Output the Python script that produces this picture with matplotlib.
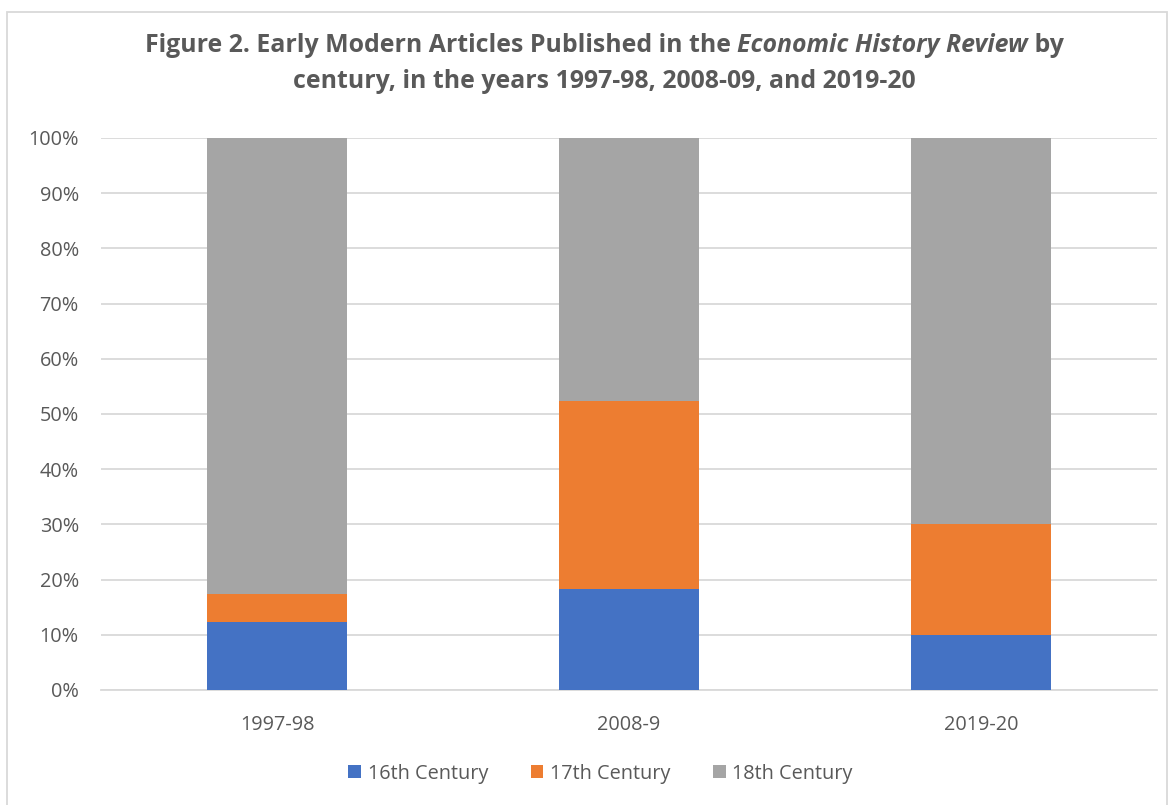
import matplotlib
matplotlib.use("Agg")
import matplotlib.pyplot as plt
import numpy as np
from matplotlib.patches import Rectangle

years = ["1997-98", "2008-9", "2019-20"]
c16 = [12.4, 18.3, 10.0]
c17 = [5.0, 34.1, 20.0]
c18 = [82.6, 47.6, 70.0]
series_names = ["16th Century", "17th Century", "18th Century"]

palette = {"blue": "#4472C4", "orange": "#ED7D31", "gray": "#A5A5A5"}
txt = "#595959"
grid = "#D9D9D9"

plt.rcParams['font.family'] = ['Open Sans', 'DejaVu Sans']

fig = plt.figure(figsize=(11.71, 8.05), dpi=100)
fig.patches.append(Rectangle((0.006, -0.01), 0.991, 0.995, transform=fig.transFigure,
                             fill=False, ec=grid, lw=1.3))

ax = fig.add_axes([0.0863, 0.1429, 0.9017, 0.6857])
x = np.arange(len(years))
w = 0.398
ax.bar(x, c16, w, color=palette["blue"], label=series_names[0], zorder=3)
ax.bar(x, c17, w, bottom=c16, color=palette["orange"], label=series_names[1], zorder=3)
ax.bar(x, c18, w, bottom=np.array(c16) + np.array(c17), color=palette["gray"],
       label=series_names[2], zorder=3)

ax.set_xlim(-0.5, 2.5)
ax.set_ylim(0, 100)
ax.set_yticks(np.arange(0, 101, 10))
ax.set_yticklabels([f"{v}%" for v in range(0, 101, 10)])
ax.set_xticks(x)
ax.set_xticklabels(years)
ax.yaxis.grid(True, color=grid, lw=1.3, zorder=0)
for s in ["top", "right", "left"]:
    ax.spines[s].set_visible(False)
ax.spines["bottom"].set_color(grid)
ax.spines["bottom"].set_linewidth(1.3)
ax.tick_params(length=0, labelsize=14.3, labelcolor=txt)
ax.tick_params(axis="y", pad=16)
ax.tick_params(axis="x", pad=18)

leg = fig.legend(loc="center", bbox_to_anchor=(0.513, 0.039), ncol=3, frameon=False,
                 fontsize=14.3, handlelength=0.65, handleheight=0.65, handletextpad=0.35,
                 columnspacing=2.1)
for t in leg.get_texts():
    t.set_color(txt)

# title with italic part
renderer = fig.canvas.get_renderer()

def draw_line(parts, y, size=17.9, xc=0.516):
    objs = []
    for s, style in parts:
        t = fig.text(0, y, s, fontsize=size, fontweight="bold", style=style, color=txt,
                     va="center", ha="left", family=['Open Sans', 'DejaVu Sans'])
        objs.append(t)
    widths = [o.get_window_extent(renderer).width / fig.bbox.width for o in objs]
    total = sum(widths)
    x0 = xc - total / 2
    for o, wd in zip(objs, widths):
        o.set_x(x0)
        x0 += wd

draw_line([("Figure 2. Early Modern Articles Published in the ", "normal"),
           ("Economic History Review", "italic"),
           (" by", "normal")], 1 - 45 / 805)
draw_line([("century, in the years 1997-98, 2008-09, and 2019-20", "normal")], 1 - 81 / 805)

fig.savefig("out.png", dpi=100)
